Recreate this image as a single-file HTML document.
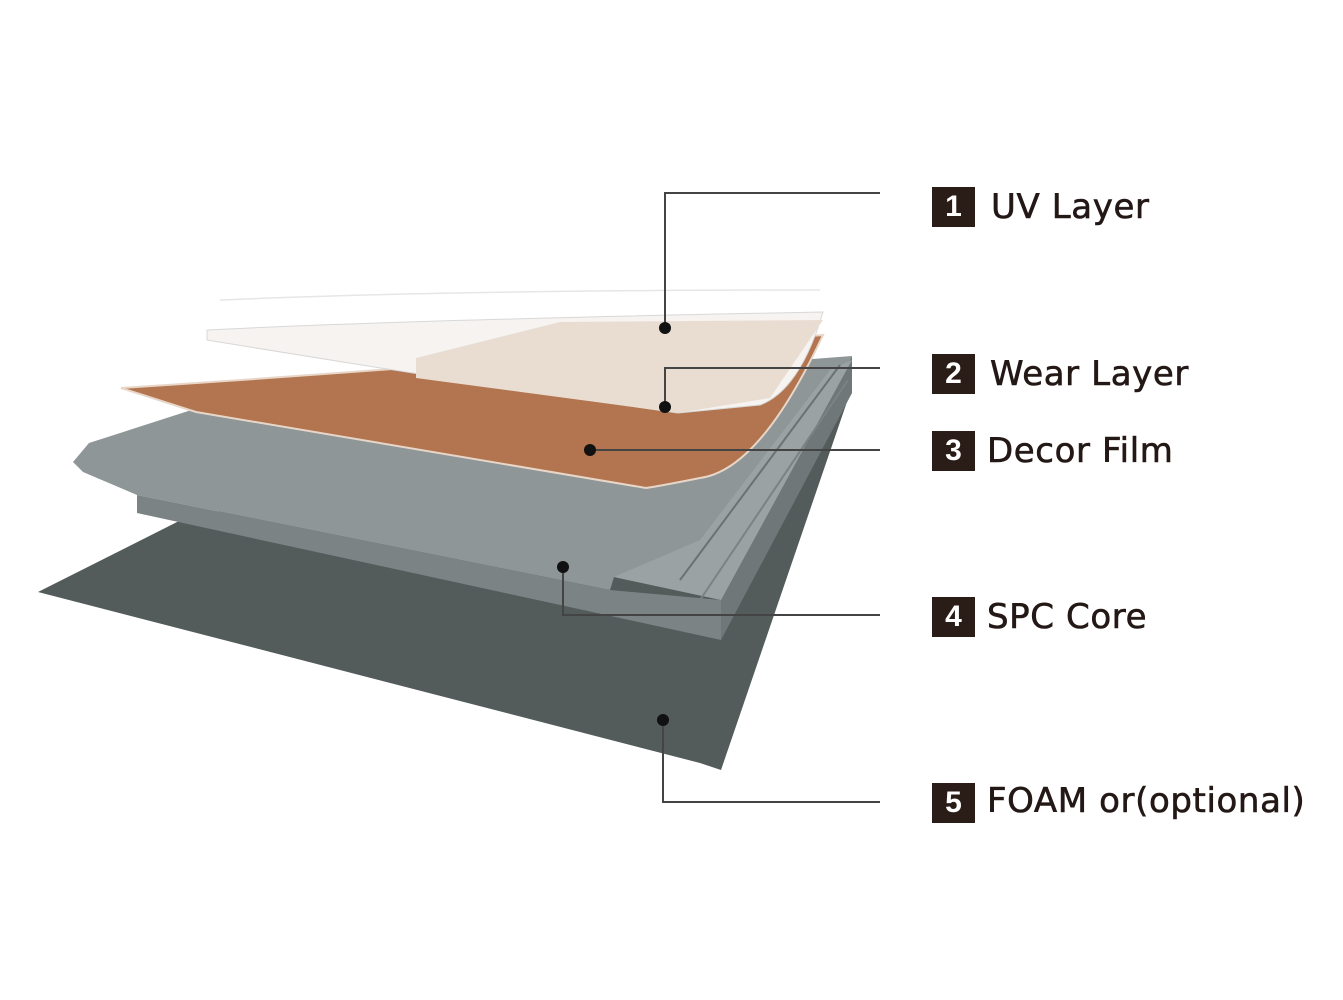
<!DOCTYPE html>
<html><head><meta charset="utf-8"><style>
html,body{margin:0;padding:0;background:#fff;}
.b{position:absolute;width:43px;height:40px;background:#2a1d17;color:#fff;font-family:"Liberation Sans",sans-serif;font-size:30px;font-weight:bold;text-align:center;line-height:40px;}
.t{position:absolute;font-family:"DejaVu Sans","Liberation Sans",sans-serif;font-size:34px;color:#231815;white-space:nowrap;letter-spacing:0.6px;-webkit-text-stroke:0.6px #231815;}
</style></head><body>
<div style="position:relative;width:1343px;height:1000px;overflow:hidden">
<svg width="1343" height="1000" style="position:absolute;left:0;top:0">
<polygon points="38,592 185,518 850,393 721,770 700,763" fill="#535b5b"/>
<polygon points="721,600 852,356 852,393 721,640" fill="#6f7778"/>
<polygon points="73,462 89,443 207,405 852,356 721,600 614,577 610,590 137,495 83,472" fill="#8e9698"/>
<polygon points="137,495 610,590 721,600 721,640 137,513" fill="#7b8385"/>
<polygon points="614,577 700,540 830,370 852,360 721,600" fill="#9aa2a3"/>
<line x1="680" y1="580" x2="840" y2="365" stroke="#6a7273" stroke-width="2"/>
<line x1="700" y1="600" x2="848" y2="380" stroke="#7a8283" stroke-width="2"/>
<path d="M121,388 Q400,370 823,335 Q760,470 700,478 Q660,486 646,488 L196,412 Z" fill="#b2754f" stroke="#e8d6c8" stroke-width="2"/>
<path d="M207,330 Q400,320 823,312 Q800,390 760,405 L678,413 Q450,380 207,340 Z" fill="#f6f3f1" stroke="#d8d8d8" stroke-width="1"/>
<polygon points="416,358 560,322 823,320 770,398 678,413 416,378" fill="#e9ddd2"/>
<path d="M220,300 Q450,290 820,290" fill="none" stroke="#e6e6e6" stroke-width="1.5"/>
<g stroke="#444" stroke-width="2" fill="none">
<polyline points="880,193 665,193 665,328"/>
<polyline points="880,368 665,368 665,407"/>
<polyline points="880,450 590,450"/>
<polyline points="563,567 563,615 880,615"/>
<polyline points="663,720 663,802 880,802"/>
</g>
<g fill="#111">
<circle cx="665" cy="328" r="6"/><circle cx="665" cy="407" r="6"/><circle cx="590" cy="450" r="6"/><circle cx="563" cy="567" r="6"/><circle cx="663" cy="720" r="6"/>
</g>
</svg>
<div class="b" style="left:932px;top:187px">1</div><div class="t" style="left:991px;top:187px">UV Layer</div>
<div class="b" style="left:932px;top:354px">2</div><div class="t" style="left:990px;top:354px">Wear Layer</div>
<div class="b" style="left:932px;top:431px">3</div><div class="t" style="left:987px;top:431px">Decor Film</div>
<div class="b" style="left:932px;top:597px">4</div><div class="t" style="left:987px;top:597px">SPC Core</div>
<div class="b" style="left:932px;top:783px">5</div><div class="t" style="left:987px;top:781px">FOAM or(optional)</div>
</div>
</body></html>
